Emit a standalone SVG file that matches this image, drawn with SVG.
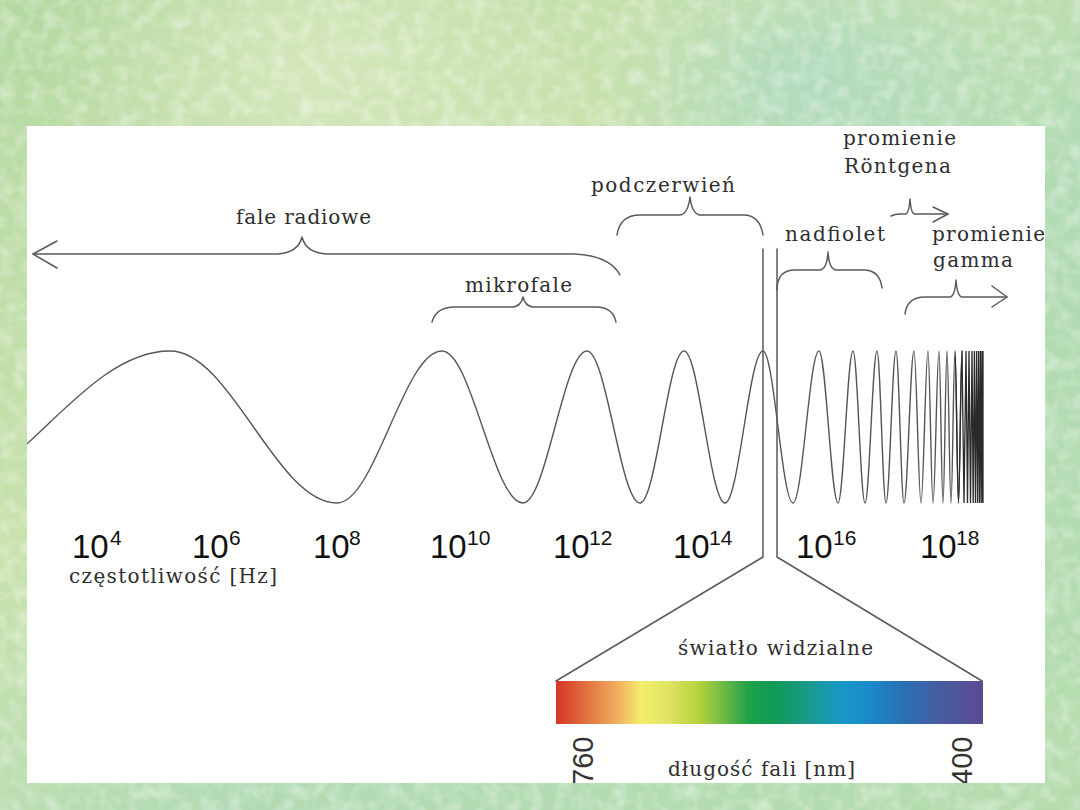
<svg xmlns="http://www.w3.org/2000/svg" width="1080" height="810" viewBox="0 0 1080 810">
  <defs>
    <linearGradient id="bgGrad" x1="0" y1="0" x2="1" y2="1">
      <stop offset="0" stop-color="#b4d9a2"/>
      <stop offset="0.35" stop-color="#c9e2ae"/>
      <stop offset="0.6" stop-color="#b2dbb4"/>
      <stop offset="1" stop-color="#b6dcae"/>
    </linearGradient>
    <radialGradient id="bgSpot1" cx="0.3" cy="0.08" r="0.25">
      <stop offset="0" stop-color="#dbe9c0" stop-opacity="0.8"/>
      <stop offset="1" stop-color="#dbe9c0" stop-opacity="0"/>
    </radialGradient>
    <radialGradient id="bgSpot2" cx="0.75" cy="0.1" r="0.2">
      <stop offset="0" stop-color="#a9d9c3" stop-opacity="0.7"/>
      <stop offset="1" stop-color="#a9d9c3" stop-opacity="0"/>
    </radialGradient>
    <filter id="tex" x="0" y="0" width="100%" height="100%">
      <feTurbulence type="fractalNoise" baseFrequency="0.07" numOctaves="2" seed="3" result="n"/>
      <feColorMatrix in="n" type="matrix" values="0 0 0 0 1  0 0 0 0 1  0 0 0 0 1  2 0 0 0 -0.8"/>
    </filter>
    <linearGradient id="spectrum" x1="0" y1="0" x2="1" y2="0">
      <stop offset="0" stop-color="#d4362a"/>
      <stop offset="0.08" stop-color="#e27843"/>
      <stop offset="0.15" stop-color="#f2b462"/>
      <stop offset="0.2" stop-color="#f4ee6c"/>
      <stop offset="0.27" stop-color="#dce262"/>
      <stop offset="0.33" stop-color="#b9d43c"/>
      <stop offset="0.38" stop-color="#7fbf44"/>
      <stop offset="0.45" stop-color="#1fa249"/>
      <stop offset="0.51" stop-color="#0f9a56"/>
      <stop offset="0.59" stop-color="#1a9a8a"/>
      <stop offset="0.67" stop-color="#1898c8"/>
      <stop offset="0.74" stop-color="#1b87c9"/>
      <stop offset="0.82" stop-color="#2a6fb1"/>
      <stop offset="0.9" stop-color="#485ca1"/>
      <stop offset="1" stop-color="#5b4a92"/>
    </linearGradient>
    <clipPath id="panelClip">
      <rect x="27" y="126" width="1018" height="657"/>
    </clipPath>
    <style>
      .ln { fill: none; stroke: #5a5a5a; stroke-width: 1.5; stroke-linecap: round; stroke-linejoin: round; }
      .wave { fill: none; stroke: #555; stroke-width: 1.4; }
      .dense { fill: none; stroke: #2a2a2a; stroke-width: 1.3; }
      .lbl { font-family: "DejaVu Serif", "Liberation Serif", serif; font-size: 20px; fill: #2e2e2e; }
      .num { font-family: "Liberation Sans", Arial, sans-serif; font-size: 33px; fill: #111; }
      .sup { font-family: "Liberation Sans", Arial, sans-serif; font-size: 21px; fill: #111; }
      .nm { font-family: "Liberation Sans", Arial, sans-serif; font-size: 29px; fill: #333; }
    </style>
  </defs>

  <g id="background">
    <rect x="0" y="0" width="1080" height="810" fill="url(#bgGrad)"/>
    <rect x="0" y="0" width="1080" height="810" fill="url(#bgSpot1)"/>
    <rect x="0" y="0" width="1080" height="810" fill="url(#bgSpot2)"/>
    <rect x="0" y="0" width="1080" height="810" filter="url(#tex)" opacity="0.4"/>
  </g>

  <g id="panel">
    <rect x="27" y="126" width="1018" height="657" fill="#ffffff"/>
  </g>

  <g clip-path="url(#panelClip)">
    <g id="wave">
      <path class="wave" d="M-80,503 C11,503 79,351 170,351 C230.8,351 276.2,503 337,503 C375.2,503 403.8,351 442,351 C471.5,351 493.5,503 523,503 C546.3,503 563.7,351 587,351 C606.3,351 620.7,503 640,503 C656,503 668,351 684,351 C698.9,351 710.1,503 725,503 C738.8,503 749.2,351 763,351 C773.9,351 782.1,503 793,503 C802.5,503 809.5,351 819,351 C825.9,351 831.1,503 838,503 C843.5,503 847.5,351 853,351 C857.4,351 860.6,503 865,503 C869.4,503 872.6,351 877,351 C880.3,351 882.7,503 886,503 C889.6,503 892.4,351 896,351 C898.9,351 901.1,503 904,503 C907.6,503 910.4,351 914,351 C916.5,351 918.5,503 921,503 C923.5,503 925.5,351 928,351 C929.8,351 931.2,503 933,503 C935.2,503 936.8,351 939,351 C940.5,351 941.5,503 943,503 C944.5,503 945.5,351 947,351 C948.5,351 949.5,503 951,503 C952.5,503 953.5,351 955,351 C956.3,351 957.2,503 958.5,503 C959.8,503 960.7,351 962,351"/>
      <path class="dense" d="M955,351 C956.3,351 957.2,503 958.5,503 C959.8,503 960.7,351 962,351 L964,503 L966,351 L967.5,503 L969,351 L970.5,503 L972,351 L973.2,503 L974.4,351 L975.5,503 L976.6,351 L977.6,503 L978.6,351 L979.5,503 L980.4,351 L981.2,503 L982,351 L982.7,503 L983,351 L983,503"/>
    </g>

    <g id="connectors">
      <g id="brace-fale-radiowe">
        <path class="ln" d="M33,254 L277,254 Q298,253 302,237 Q306,253 327,254 L575,254 Q610,256 620,275"/>
        <path class="ln" d="M57,241 L33,254 L57,268"/>
      </g>
      <path id="brace-mikrofale" class="ln" d="M432,322 Q436,307 455,307 L513,307 Q521,306 523,297 Q525,306 533,307 L598,307 Q613,308 616,322"/>
      <path id="brace-podczerwien" class="ln" d="M617,235 Q620,215 640,215 L680,215 Q688,214 690,197 Q692,214 700,215 L745,215 Q760,216 763,235"/>
      <path id="brace-nadfiolet" class="ln" d="M777,290 Q777,270 795,270 L820,270 Q827,269 828,252 Q829,269 836,270 L865,270 Q880,271 882,288"/>
      <g id="brace-rontgen">
        <path class="ln" d="M891,216 Q895,214 900,214 L906,214 Q909,213 910,199 Q911,213 914,214 L948,214"/>
        <path class="ln" d="M933,207 L948,214 L933,222"/>
      </g>
      <g id="brace-gamma">
        <path class="ln" d="M905,314 Q907,297 925,297 L950,297 Q955,296 956,280 Q957,296 962,297 L1007,297"/>
        <path class="ln" d="M992,286 L1007,297 L992,307"/>
      </g>
      <path id="visible-left" class="ln" d="M763,249 L763,557 L556,681"/>
      <path id="visible-right" class="ln" d="M777,249 L777,557 L982,681"/>
    </g>

    <g id="spectrum-bar">
      <rect x="556" y="681" width="427" height="43" fill="url(#spectrum)"/>
    </g>

    <g id="labels">
      <text class="lbl" x="236" y="224" textLength="135">fale radiowe</text>
      <text class="lbl" x="591" y="192" textLength="144">podczerwień</text>
      <text class="lbl" x="465" y="292" textLength="107">mikrofale</text>
      <text class="lbl" x="843" y="145" textLength="113">promienie</text>
      <text class="lbl" x="844" y="173" textLength="107">Röntgena</text>
      <text class="lbl" x="785" y="241" textLength="100">nadfiolet</text>
      <text class="lbl" x="932" y="241" textLength="113">promienie</text>
      <text class="lbl" x="933" y="267" textLength="80">gamma</text>
      <text class="lbl" x="69" y="583" textLength="208">częstotliwość [Hz]</text>
      <text class="lbl" x="678" y="655" textLength="195">światło widzialne</text>
      <text class="lbl" x="668" y="776" textLength="187">długość fali [nm]</text>
    </g>

    <g id="frequency-axis">
      <text class="num" x="72" y="558">10</text><text class="sup" x="110" y="545">4</text>
      <text class="num" x="192" y="558">10</text><text class="sup" x="229" y="545">6</text>
      <text class="num" x="313" y="558">10</text><text class="sup" x="349" y="545">8</text>
      <text class="num" x="430" y="558">10</text><text class="sup" x="467" y="545">10</text>
      <text class="num" x="553" y="558">10</text><text class="sup" x="589" y="545">12</text>
      <text class="num" x="673" y="558">10</text><text class="sup" x="709" y="545">14</text>
      <text class="num" x="796" y="558">10</text><text class="sup" x="833" y="545">16</text>
      <text class="num" x="920" y="558">10</text><text class="sup" x="956" y="545">18</text>
    </g>

    <g id="wavelength-axis">
      <text class="nm" transform="translate(593,785) rotate(-90)">760</text>
      <text class="nm" transform="translate(972,785) rotate(-90)">400</text>
    </g>
  </g>
</svg>
